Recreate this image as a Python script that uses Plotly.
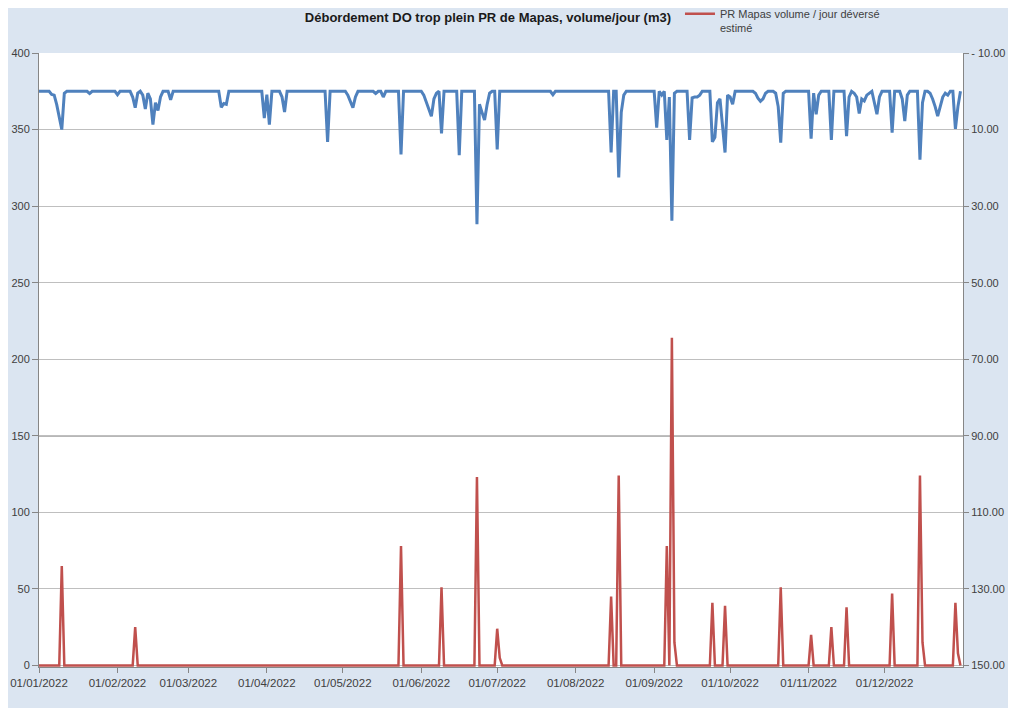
import pandas as pd
import plotly.graph_objects as go

# ---------------- data ----------------
year_start = "2022-01-01"
n_days = 365

# Red series: estimated overflow volume per day (m3), left axis
overflow_dates = [
    "2022-01-10", "2022-02-08", "2022-05-24", "2022-06-09", "2022-06-23",
    "2022-07-01", "2022-07-02", "2022-08-15", "2022-08-18", "2022-09-06",
    "2022-09-08", "2022-09-09", "2022-09-24", "2022-09-29", "2022-10-21",
    "2022-11-02", "2022-11-10", "2022-11-16", "2022-12-04", "2022-12-15",
    "2022-12-16", "2022-12-29", "2022-12-30",
]
overflow_m3 = [
    65, 25, 78, 51, 123,
    24, 5, 45, 124, 78,
    214, 15, 41, 39, 51,
    20, 25, 38, 47, 124,
    15, 41, 8,
]

# Blue series: daily values on reversed right axis (days counted from 1 Jan 2022)
rain_day_offsets = [
    5, 6, 7, 8, 9, 10, 20, 31, 37, 38, 39, 41, 42, 43, 44, 45, 46, 47, 48, 52,
    72, 73, 74, 89, 90, 91, 96, 97, 114, 122, 123, 124, 125, 133, 136, 143,
    152, 153, 154, 155, 156, 157, 159, 166, 173, 174, 175, 176, 177, 178, 181,
    203, 226, 229, 230, 231, 244, 246, 248, 249, 250, 251, 257, 258, 259, 260,
    261, 266, 267, 268, 269, 270, 271, 272, 273, 274, 283, 284, 285, 286, 287,
    291, 292, 293, 294, 305, 306, 307, 308, 313, 319, 320, 322, 323, 324, 325,
    326, 327, 328, 330, 331, 332, 337, 341, 342, 343, 348, 349, 352, 353, 354,
    355, 356, 357, 358, 359, 362, 363,
]
rain_values = [
    0.8, 1, 3.5, 6.5, 10, 0.5, 0.6, 0.9, 1.5, 4.3, 0.5, 1, 4.6, 0.5, 2, 8.7, 3, 5, 1.5, 2.2,
    4.2, 3.2, 3.4, 7, 0.9, 8.7, 1.5, 5.4, 13.2, 1, 2.5, 4.3, 1.5, 0.6, 1.5, 16.5,
    1, 3, 4.5, 6.5, 2, 0.5, 11, 16.7, 34.7, 3.4, 5.5, 7.5, 3.5, 0.5, 15.2,
    0.9, 16, 22.5, 5.5, 1, 9.5, 1, 12.7, 1.5, 33.8, 0.5, 12.7, 1.7, 1.5, 1.5,
    1, 13.2, 12, 3, 2, 9, 16, 1, 1.5, 3.4, 0.5, 1.8, 2.6, 2, 0.5,
    0.5, 4, 13.4, 0.5, 12.4, 0.5, 6, 1, 12.7, 11.7, 1.5, 0.5, 1.5, 5.8, 2,
    2.5, 1, 0.5, 3, 6, 1.5, 10.8, 2, 7.8, 1, 17.9, 3, 0.5, 2, 4,
    6.5, 4, 1.5, 0.5, 1, 9.8, 4,
]

left_ticks = [0, 50, 100, 150, 200, 250, 300, 350, 400]
right_ticks = [-10, 10, 30, 50, 70, 90, 110, 130, 150]
right_tick_labels = ["- 10.00", "10.00", "30.00", "50.00", "70.00",
                     "90.00", "110.00", "130.00", "150.00"]
month_ticks = ["2022-01-01", "2022-02-01", "2022-03-01", "2022-04-01",
               "2022-05-01", "2022-06-01", "2022-07-01", "2022-08-01",
               "2022-09-01", "2022-10-01", "2022-11-01", "2022-12-01"]

title_text = "Débordement DO trop plein PR de Mapas, volume/jour (m3)"
overflow_name = "PR Mapas volume / jour déversé<br>estimé"

# ---------------- build daily series ----------------
dates = pd.date_range(year_start, periods=n_days, freq="D")
overflow = pd.Series(0.0, index=dates)
overflow.loc[pd.to_datetime(overflow_dates)] = overflow_m3
rain = pd.Series(0.0, index=dates)
rain.iloc[rain_day_offsets] = rain_values

FONT = "Liberation Sans, Arial, sans-serif"
TICK_COLOR = "#404040"
AXIS_COLOR = "#868686"

fig = go.Figure()
fig.add_trace(go.Scatter(
    x=dates, y=overflow.values, mode="lines", name=overflow_name,
    line=dict(color="#C0504D", width=2.5), yaxis="y",
))
fig.add_trace(go.Scatter(
    x=dates, y=rain.values, mode="lines", name="pluie",
    line=dict(color="#4F81BD", width=3), yaxis="y2", showlegend=False,
))

fig.update_layout(
    width=1016, height=708,
    margin=dict(l=31, r=61, t=45, b=49, autoexpand=False),
    paper_bgcolor="#DBE5F1",
    plot_bgcolor="#FFFFFF",
    font=dict(family=FONT, color=TICK_COLOR, size=11),
    title=dict(text="<b>" + title_text + "</b>", x=0.4724, xanchor="center",
               y=1 - 9 / 708, yanchor="middle",
               font=dict(family=FONT, size=13, color="#1a1a1a")),
    showlegend=True,
    legend=dict(x=0.6937, y=1.086, xanchor="left", yanchor="top",
                bgcolor="rgba(0,0,0,0)", valign="top",
                font=dict(family=FONT, size=11, color="#404040")),
    xaxis=dict(
        range=["2022-01-01", "2023-01-01"], tickvals=month_ticks,
        tickformat="%d/%m/%Y", showgrid=False, zeroline=False,
        showline=True, linecolor=AXIS_COLOR, linewidth=1,
        ticks="outside", ticklen=5, tickcolor=AXIS_COLOR,
        tickfont=dict(size=11.5, color=TICK_COLOR), automargin=False,
    ),
    yaxis=dict(
        range=[-1, 400], tickvals=left_ticks, showgrid=True,
        gridcolor="#BFBFBF", gridwidth=1, zeroline=False,
        showline=True, linecolor=AXIS_COLOR, linewidth=1,
        ticks="outside", ticklen=6, tickcolor=AXIS_COLOR,
        tickfont=dict(size=11, color=TICK_COLOR), automargin=False,
    ),
    yaxis2=dict(
        overlaying="y", side="right", range=[150.4, -10],
        tickvals=right_ticks, ticktext=right_tick_labels,
        showgrid=False, zeroline=False,
        showline=True, linecolor=AXIS_COLOR, linewidth=1,
        ticks="outside", ticklen=5, tickcolor=AXIS_COLOR,
        tickfont=dict(size=11, color=TICK_COLOR), automargin=False,
    ),
    shapes=[
        dict(type="line", xref="paper", yref="y", x0=0, x1=1, y0=150, y1=150,
             line=dict(color="#707070", width=1.2), layer="between"),
    ],
)

fig.write_html("out.html")
